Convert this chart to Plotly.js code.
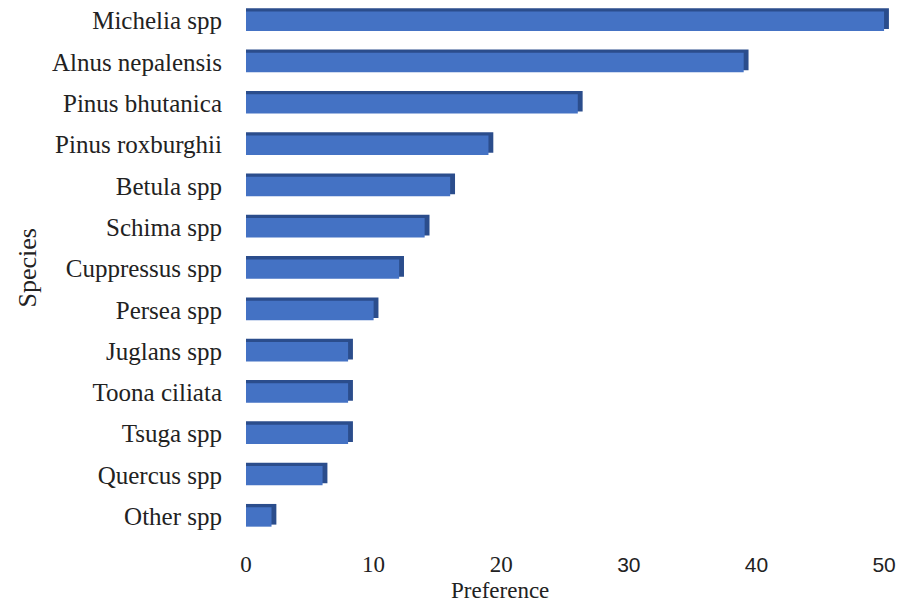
<!DOCTYPE html>
<html>
<head>
<meta charset="utf-8">
<script src="https://cdn.plot.ly/plotly-3.0.1.min.js"></script>
<style>html,body{margin:0;padding:0;background:#fff;}#chart{width:898px;height:607px;}</style>
</head>
<body>
<div id="chart"></div>
<script>
const species = ["Michelia spp","Alnus nepalensis","Pinus bhutanica","Pinus roxburghii","Betula spp","Schima spp","Cuppressus spp","Persea spp","Juglans spp","Toona ciliata","Tsuga spp","Quercus spp","Other spp"];
const preference = [50,39,26,19,16,14,12,10,8,8,8,6,2];
const tickValues = [0,10,20,30,40,50];
const tickLabels = ["0","10","20","30","40","50"];

const serif = "Liberation Serif, Times New Roman, serif";
const sans = "Liberation Sans, Arial, sans-serif";
const depth = 0.38; // visual 3D depth in axis units

// the reference prints 30, 40, 50 in a sans face
const tickText = tickLabels.map((t, i) => tickValues[i] >= 30 ? '<span style="font-family:' + sans + ';font-size:21px">' + t + '</span>' : t);

const sideFace = {
  type: "bar", orientation: "h",
  y: species, x: preference.map(v => v + depth),
  width: 0.5, offset: -0.3,
  marker: {color: "#2b4d8c", line: {width: 0}},
  hoverinfo: "skip", showlegend: false, cliponaxis: false
};
const frontFace = {
  type: "bar", orientation: "h",
  y: species, x: preference,
  width: 0.47, offset: -0.22,
  marker: {color: "#4472c4", line: {width: 0}},
  showlegend: false, cliponaxis: false
};

const plotL = 246, plotR = 893;
const layout = {
  width: 898, height: 607,
  margin: {l: plotL, r: 898 - plotR, t: 0, b: 70},
  paper_bgcolor: "#fff", plot_bgcolor: "#fff",
  barmode: "overlay",
  font: {family: serif, color: "#222"},
  xaxis: {
    range: [0, 50.7], tickvals: tickValues, ticktext: tickText,
    showgrid: false, zeroline: false, showline: false, ticks: "",
    tickfont: {family: serif, size: 23, color: "#222"}, ticklabelstandoff: 11
  },
  yaxis: {
    type: "category", autorange: "reversed",
    showgrid: false, zeroline: false, showline: false, ticks: "",
    tickfont: {family: serif, size: 25, color: "#222"}, ticklabelstandoff: 23
  },
  annotations: [
    {text: "Preference", xref: "paper", yref: "paper", x: (500-plotL)/(plotR-plotL), y: 0, yshift: -40, yanchor: "top", xanchor: "center", borderpad: 0, showarrow: false, font: {family: serif, size: 23, color: "#222"}},
    {text: "Species", xref: "paper", yref: "paper", x: (27-plotL)/(plotR-plotL), y: 0.5, xanchor: "center", yanchor: "middle", textangle: -90, showarrow: false, font: {family: serif, size: 26, color: "#222"}}
  ]
};

Plotly.newPlot("chart", [sideFace, frontFace], layout, {displayModeBar: false, staticPlot: true});
</script>
</body>
</html>
